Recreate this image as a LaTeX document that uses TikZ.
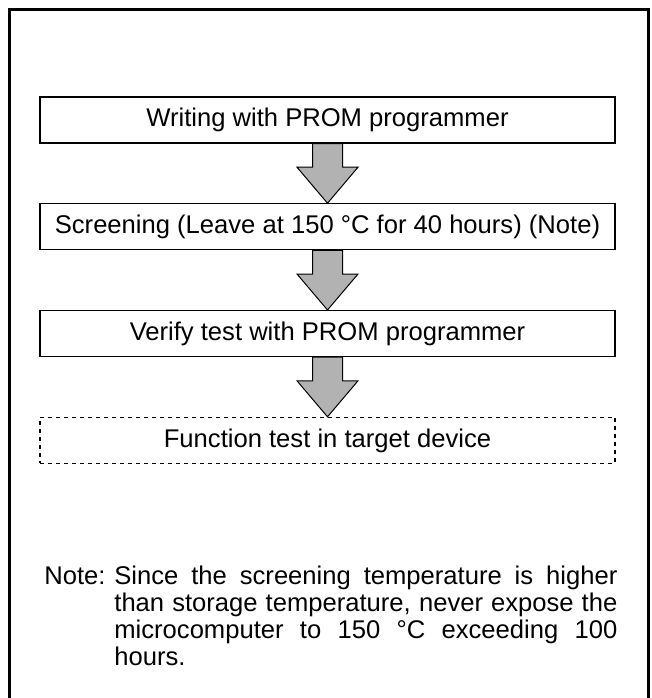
\documentclass[tikz,border=0pt]{standalone}
\usepackage{fontspec}
\setmainfont{Liberation Sans}
\usetikzlibrary{positioning,calc}
\tikzset{
	stepbox/.style={draw, line width=0.6pt, minimum width=287.5pt, minimum height=23pt, inner sep=0pt, font=\fontsize{12.8}{13.5}\selectfont},
	lastbox/.style={stepbox, dash pattern=on 2pt off 2pt},
	fatarrow/.style={draw, line width=0.5pt, fill=black!30},
}
\begin{document}
\begin{tikzpicture}[x=0.5pt, y=-0.5pt, node distance=29.8pt]
		\useasboundingbox (0,0) rectangle (652,698);
		\begin{scope}
			\clip (0,0) rectangle (652,698);
			\draw[line width=1.1pt] (9.5,720) |- (648.5,9.5) -- (648.5,720);
		\end{scope}
		\node[stepbox] (wr) at (327.5,120) {Writing with PROM programmer};
		\node[stepbox, below=of wr] (scr) {Screening (Leave at 150 °C for 40 hours) (Note)};
		\node[stepbox, below=of scr] (ver) {Verify test with PROM programmer};
		\node[lastbox, below=of ver] (fun) {Function test in target device};
		% block arrows between the steps
		\foreach \a/\b in {wr/scr, scr/ver, ver/fun}{
			\draw[fatarrow] ($(\a.south)+(-15,0)$) -- ($(\b.north)+(-15,-36)$) -- ($(\b.north)+(-30.5,-36)$)
				-- (\b.north) -- ($(\b.north)+(30.5,-36)$) -- ($(\b.north)+(15,-36)$) -- ($(\a.south)+(15,0)$) -- cycle;
		}
		\node[anchor=north west, inner sep=0pt, text width=286.5pt, align=justify, font=\fontsize{12.8}{13.5}\selectfont] (note) at (44,566)
			{\noindent\hangindent=35pt\hangafter=1\makebox[35pt][l]{Note:}Since the screening temperature is higher\linebreak
			than storage temperature, never expose the\linebreak
			microcomputer to 150 °C exceeding 100\linebreak
			hours.\par};
	\end{tikzpicture}
\end{document}
